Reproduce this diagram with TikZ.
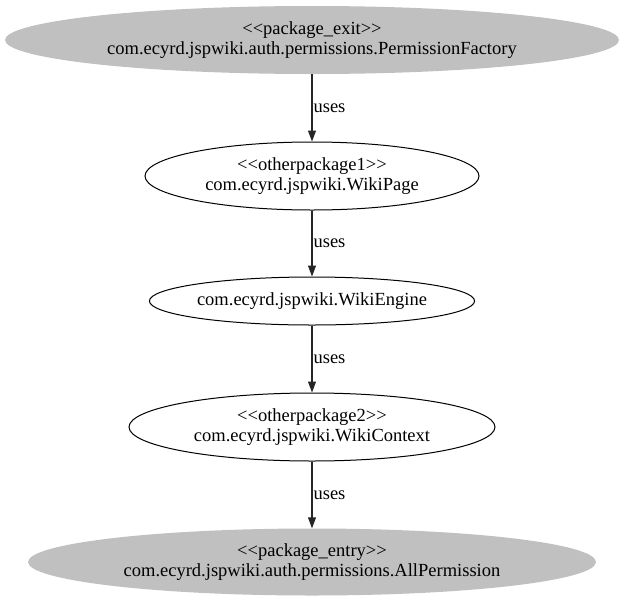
\documentclass[tikz,border=0pt]{standalone}
\usepackage{fontspec}
\setmainfont{Liberation Serif}
\usetikzlibrary{shapes.geometric,arrows.meta}
\definecolor{pkggray}{RGB}{192,192,192}
\tikzset{
  cls/.style={ellipse, draw=black, line width=1pt, inner sep=0pt, align=center,
    font=\fontsize{18.5}{20}\selectfont},
  pkg/.style={ellipse, fill=pkggray, draw=none, inner sep=0pt, align=center,
    font=\fontsize{18.5}{20}\selectfont},
  dep/.style={-{Triangle[length=11pt,width=8pt]}, line width=1.1pt, draw=black!85},
  lbl/.style={anchor=west, inner sep=1pt, font=\fontsize{18.5}{20}\selectfont}
}
\begin{document}
\begin{tikzpicture}[x=1pt,y=-1pt]
\useasboundingbox (0,0) rectangle (624,603);
\node[pkg, minimum width=614pt, minimum height=68pt] (exit) at (312,40)
  {<{}<package\_exit>{}>\\com.ecyrd.jspwiki.auth.permissions.PermissionFactory};
\node[cls, minimum width=334pt, minimum height=68pt] (page) at (312,176)
  {<{}<otherpackage1>{}>\\com.ecyrd.jspwiki.WikiPage};
\node[cls, minimum width=321pt, minimum height=48pt] (engine) at (312,301)
  {com.ecyrd.jspwiki.WikiEngine};
\node[cls, minimum width=366pt, minimum height=68pt] (context) at (312,427)
  {<{}<otherpackage2>{}>\\com.ecyrd.jspwiki.WikiContext};
\node[pkg, minimum width=568pt, minimum height=67pt] (entry) at (312,562)
  {<{}<package\_entry>{}>\\com.ecyrd.jspwiki.auth.permissions.AllPermission};
\draw[dep] (exit) -- node[lbl] {uses} (page);
\draw[dep] (page) -- node[lbl] {uses} (engine);
\draw[dep] (engine) -- node[lbl] {uses} (context);
\draw[dep] (context) -- node[lbl] {uses} (entry);
\end{tikzpicture}
\end{document}
